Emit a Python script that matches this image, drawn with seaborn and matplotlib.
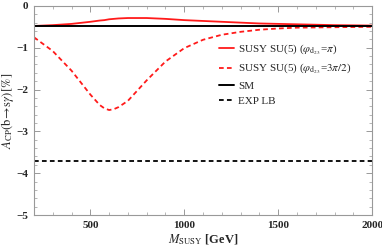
import numpy as np
import pandas as pd
import seaborn as sns
import matplotlib.pyplot as plt
from matplotlib.ticker import MultipleLocator

sns.set_style("ticks")
plt.rcParams['font.family'] = ['Liberation Serif', 'DejaVu Serif']
plt.rcParams['mathtext.fontset'] = 'stix'

# values
m_susy = [200, 300, 400, 500, 550, 575, 600, 625, 650, 700, 800, 900, 1000, 1100,
          1200, 1300, 1400, 1500, 1600, 1800, 2000]
acp_pi = [-0.48, -0.46, -0.43, -0.38, -0.35, -0.34, -0.32, -0.31, -0.30, -0.29, -0.29, -0.31,
          -0.34, -0.36, -0.38, -0.40, -0.42, -0.43, -0.44, -0.46, -0.47]
acp_3pi2 = [-0.75, -1.08, -1.55, -2.12, -2.37, -2.45, -2.49, -2.47, -2.42, -2.27, -1.78, -1.33,
            -1.01, -0.81, -0.69, -0.62, -0.57, -0.54, -0.52, -0.51, -0.50]
sm_value = -0.48
exp_lb = -3.7

labels = [r'SUSY SU(5) ($\varphi_{\mathrm{d}_{23}}$=$\pi$)',
          r'SUSY SU(5) ($\varphi_{\mathrm{d}_{23}}$=$3\pi/2$)',
          'SM', 'EXP LB']

df = pd.DataFrame({'m': m_susy, 'pi': acp_pi, 'tpi': acp_3pi2})
df['sm'] = sm_value
df['exp'] = exp_lb

fig = plt.figure(figsize=(3.82, 2.46), dpi=100)
ax = fig.add_axes([0.089, 0.126, 0.885, 0.85])

sns.lineplot(data=df, x='m', y='pi', ax=ax, color='#ff1a1a', lw=1.3, label=labels[0])
sns.lineplot(data=df, x='m', y='tpi', ax=ax, color='#ff1a1a', lw=1.3,
             dashes=(2.6, 1.8), label=labels[1])
sns.lineplot(data=df, x='m', y='sm', ax=ax, color='black', lw=1.4, label=labels[2])
sns.lineplot(data=df, x='m', y='exp', ax=ax, color='black', lw=1.3,
             dashes=(2.6, 1.8), label=labels[3])

ax.set_xlim(200, 2000)
ax.set_ylim(-5, 0)
ax.xaxis.set_major_locator(MultipleLocator(500))
ax.xaxis.set_minor_locator(MultipleLocator(100))
ax.yaxis.set_major_locator(MultipleLocator(1))
ax.yaxis.set_minor_locator(MultipleLocator(0.2))
ax.tick_params(which='both', direction='in', top=True, right=True, color='#999999')
ax.tick_params(which='major', length=4, width=0.7, labelsize=8, pad=4)
ax.tick_params(which='minor', length=2, width=0.5)
ax.set_xticks([500, 1000, 1500, 2000])
ax.set_xticklabels(['500', '1000', '1500', '2000'], fontweight='bold')
ax.set_yticks([0, -1, -2, -3, -4, -5])
ax.set_yticklabels(['0', '\u22121', '\u22122', '\u22123', '\u22124', '\u22125'], fontweight='bold')
for s in ax.spines.values():
    s.set_color('#999999')
    s.set_linewidth(0.8)

ax.set_xlabel(r'$M_{\mathrm{SUSY}}$ [GeV]', fontsize=9, fontweight='bold', labelpad=2)
ax.set_ylabel(r'$A_{\mathrm{CP}}(\mathrm{b}\!\to\! \mathrm{s}\gamma)\,[\%]$', fontsize=9)
ax.yaxis.set_label_coords(-0.052, 0.5)

ax.legend(loc='upper left', bbox_to_anchor=(0.535, 0.845), frameon=False, fontsize=8,
          handlelength=1.3, handletextpad=0.4, labelspacing=0.45, borderaxespad=0)

fig.savefig('out.png', dpi=100)
